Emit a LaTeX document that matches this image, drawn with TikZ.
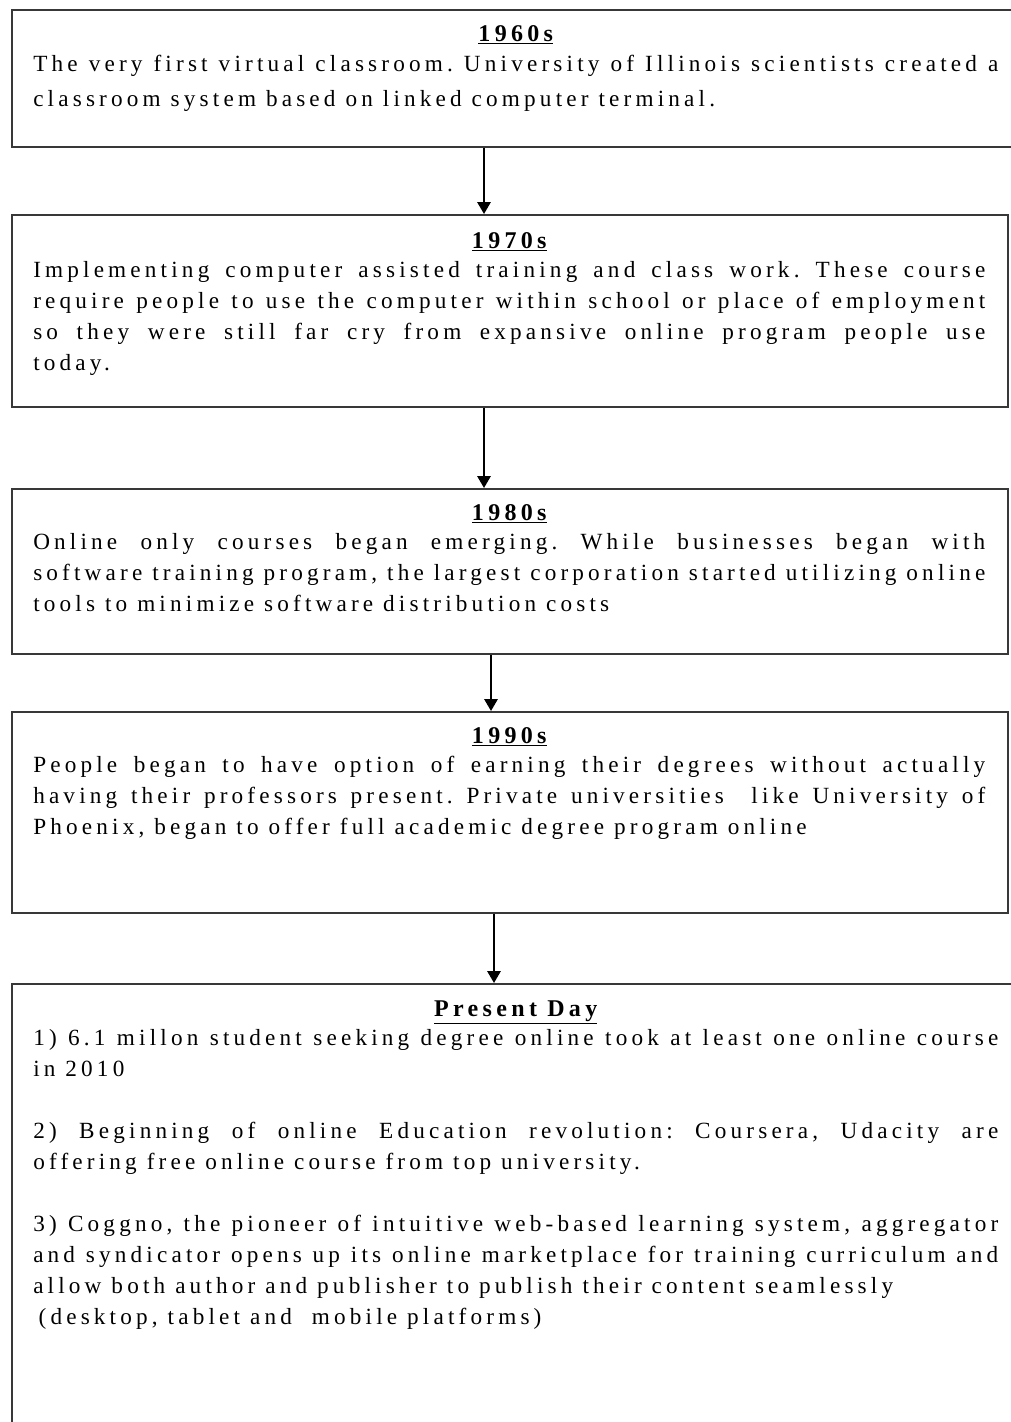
\documentclass[tikz,border=0pt]{standalone}
\usepackage{fontspec}
\setmainfont{Liberation Serif}[LetterSpace=18]
\usetikzlibrary{arrows.meta}

\newcommand{\bodyfont}{\fontsize{17.4pt}{23.25pt}\selectfont\frenchspacing}
\newcommand{\yearfont}{\fontsize{18pt}{20pt}\selectfont\bfseries}
\newcommand{\era}[1]{{\centering\yearfont\underline{#1}\par}}

\begin{document}
\begin{tikzpicture}[
	x = 0.75pt, y = -0.75pt,
	frame/.style = {draw = black!78, line width = 1.4pt, anchor = north west,
		inner sep = 0pt, minimum width = 747pt},
	wide/.style = {minimum width = 760pt},
	note/.style = {anchor = base west, inner sep = 0pt, text width = 714pt,
		align = justify, font = \bodyfont},
	widenote/.style = {text width = 723.75pt},
	link/.style = {-{Triangle[width = 10pt, length = 9pt]}, line width = 1.6pt}
	]
	\useasboundingbox (0,0) rectangle (1011,1422);
	% boxes
	\node[frame, wide, minimum height = 102.75pt] (b1960) at (11,9) {};
	\node[frame, minimum height = 144pt] (b1970) at (11,214) {};
	\node[frame, minimum height = 123.75pt] (b1980) at (11,488) {};
	\node[frame, minimum height = 150.75pt] (b1990) at (11,711) {};
	\node[frame, wide, minimum height = 345pt] (bnow) at (11,983) {};
	% texts
	\node[note, widenote, font = \fontsize{17.4pt}{26.25pt}\selectfont\frenchspacing] (t1960) at (33,41) {
		\era{1960s}\vspace{-3.75pt}
		The very first virtual classroom. University of Illinois scientists created a\linebreak
		classroom system based on linked computer terminal.};
	\node[note] (t1970) at (33,248) {
		\era{1970s}\vspace{-1.5pt}
		Implementing computer assisted training and class work. These course\linebreak
		require people to use the computer within school or place of employment\linebreak
		so they were still far cry from expansive online program people use\linebreak
		today.};
	\node[note] (t1980) at (33,520) {
		\era{1980s}\vspace{-1.5pt}
		Online only courses began emerging. While businesses began with\linebreak
		software training program, the largest corporation started utilizing online\linebreak
		tools to minimize software distribution costs};
	\node[note] (t1990) at (33,743) {
		\era{1990s}\vspace{-1.5pt}
		People began to have option of earning their degrees without actually\linebreak
		having their professors present. Private universities\ \ like University of\linebreak
		Phoenix, began to offer full academic degree program online};
	\node[note, widenote] (tnow) at (33,1016) {
		\era{Present Day}\vspace{-1.5pt}
		1) 6.1 millon student seeking degree online took at least one online course\linebreak
		in 2010\par\vspace{23.25pt}
		2) Beginning of online Education revolution: Coursera, Udacity are\linebreak
		offering free online course from top university.\par\vspace{23.25pt}
		3) Coggno, the pioneer of intuitive web-based learning system, aggregator\linebreak
		and syndicator opens up its online marketplace for training curriculum and\linebreak
		allow both author and publisher to publish their content seamlessly\\
		\hspace*{4pt}(desktop, tablet and\ \ mobile platforms)};
	% arrows
	\coordinate (x1) at (484,0);
	\coordinate (x3) at (491,0);
	\coordinate (x4) at (494,0);
	\draw[link] (b1960.south -| x1) -- (b1970.north -| x1);
	\draw[link] (b1970.south -| x1) -- (b1980.north -| x1);
	\draw[link] (b1980.south -| x3) -- (b1990.north -| x3);
	\draw[link] (b1990.south -| x4) -- (bnow.north -| x4);
\end{tikzpicture}
\end{document}
